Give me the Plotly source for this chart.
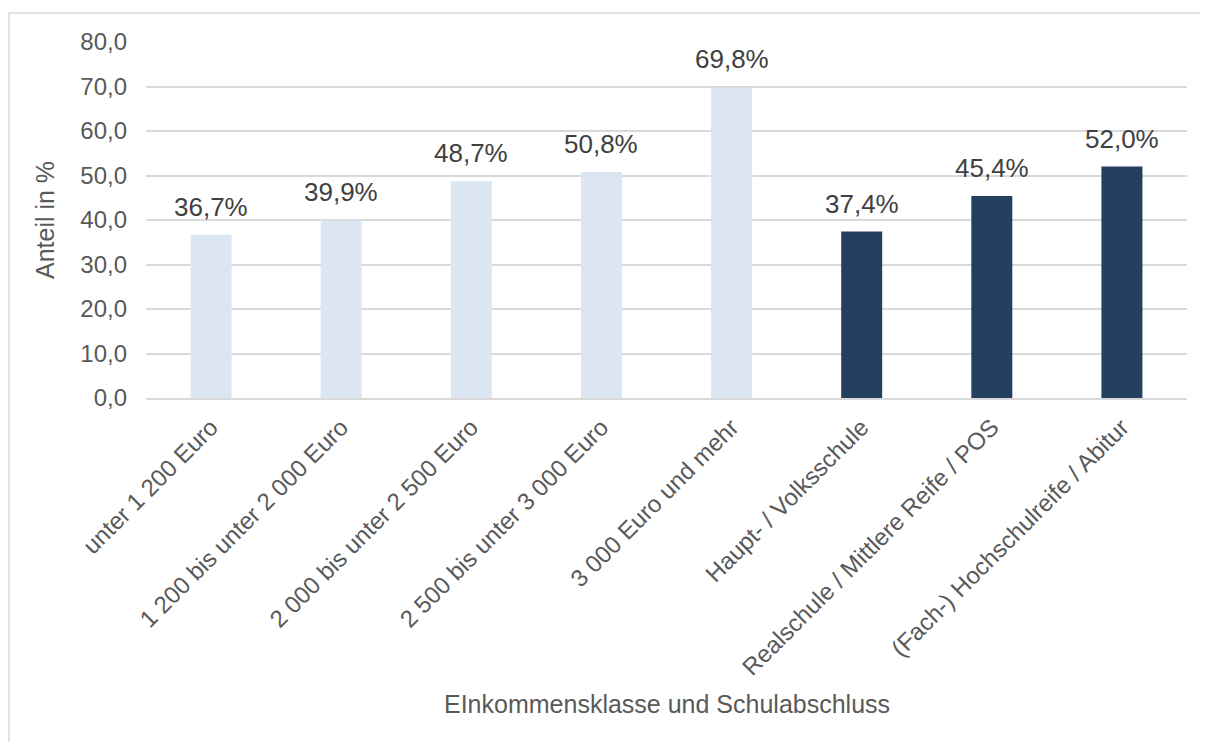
import plotly.graph_objects as go

categories = [
    "unter 1 200 Euro",
    "1 200 bis unter 2 000 Euro",
    "2 000 bis unter 2 500 Euro",
    "2 500 bis unter 3 000 Euro",
    "3 000 Euro und mehr",
    "Haupt- / Volksschule",
    "Realschule / Mittlere Reife / POS",
    "(Fach-) Hochschulreife / Abitur",
]
values = [36.7, 39.9, 48.7, 50.8, 69.8, 37.4, 45.4, 52.0]
groups = ["income"] * 5 + ["school"] * 3
group_colors = {"income": "#dce6f2", "school": "#243f60"}
y_ticks = [0, 10, 20, 30, 40, 50, 60, 70, 80]
y_tick_labels = [f"{v:.1f}".replace(".", ",") for v in y_ticks]
value_labels = [f"{v:.1f}%".replace(".", ",") for v in values]

FONT = "Liberation Sans, Arial, sans-serif"

fig = go.Figure()
fig.add_trace(go.Bar(
    x=categories,
    y=values,
    marker=dict(color=[group_colors[g] for g in groups], line=dict(width=0)),
    hoverinfo="skip",
    showlegend=False,
))

annotations = []
for c, v, t in zip(categories, values, value_labels):
    annotations.append(dict(
        x=c, y=v, xref="x", yref="y", text=t, showarrow=False,
        yanchor="bottom", yshift=11,
        font=dict(family=FONT, size=26, color="#404040"),
    ))
annotations.append(dict(
    x=0.5, y=-0.86, xref="paper", yref="paper", text="EInkommensklasse und Schulabschluss",
    showarrow=False, xanchor="center", yanchor="middle",
    font=dict(family=FONT, size=25, color="#595959"),
))
annotations.append(dict(
    x=-0.097, y=0.5, xref="paper", yref="paper", text="Anteil in %",
    showarrow=False, textangle=-90, xanchor="center", yanchor="middle",
    font=dict(family=FONT, size=25, color="#595959"),
))

fig.update_layout(
    width=1200, height=734,
    margin=dict(l=138, r=21, t=34, b=344, autoexpand=False),
    paper_bgcolor="white", plot_bgcolor="white",
    bargap=0.685,
    annotations=annotations,
    shapes=[dict(
        type="rect", xref="paper", yref="paper",
        x0=-0.1316, x1=1.0192, y0=-1.2, y1=1.0815,
        line=dict(color="#d9d9d9", width=1.5), fillcolor="rgba(0,0,0,0)", layer="below",
    )],
    font=dict(family=FONT, color="#595959"),
)
fig.update_xaxes(
    tickangle=-45, tickfont=dict(family=FONT, size=24, color="#595959"),
    showline=True, linecolor="#d9d9d9", linewidth=1.5, showgrid=False,
    ticks="", ticklabelstandoff=4, automargin=False,
)
fig.update_yaxes(
    range=[0, 80], tickvals=y_ticks, ticktext=y_tick_labels,
    tickfont=dict(family=FONT, size=24, color="#595959"),
    showgrid=True, gridcolor="#d9d9d9", gridwidth=1.5, zeroline=False,
    showline=False, ticks="", ticklabelstandoff=18, automargin=False,
)

fig.write_html("out.html")
